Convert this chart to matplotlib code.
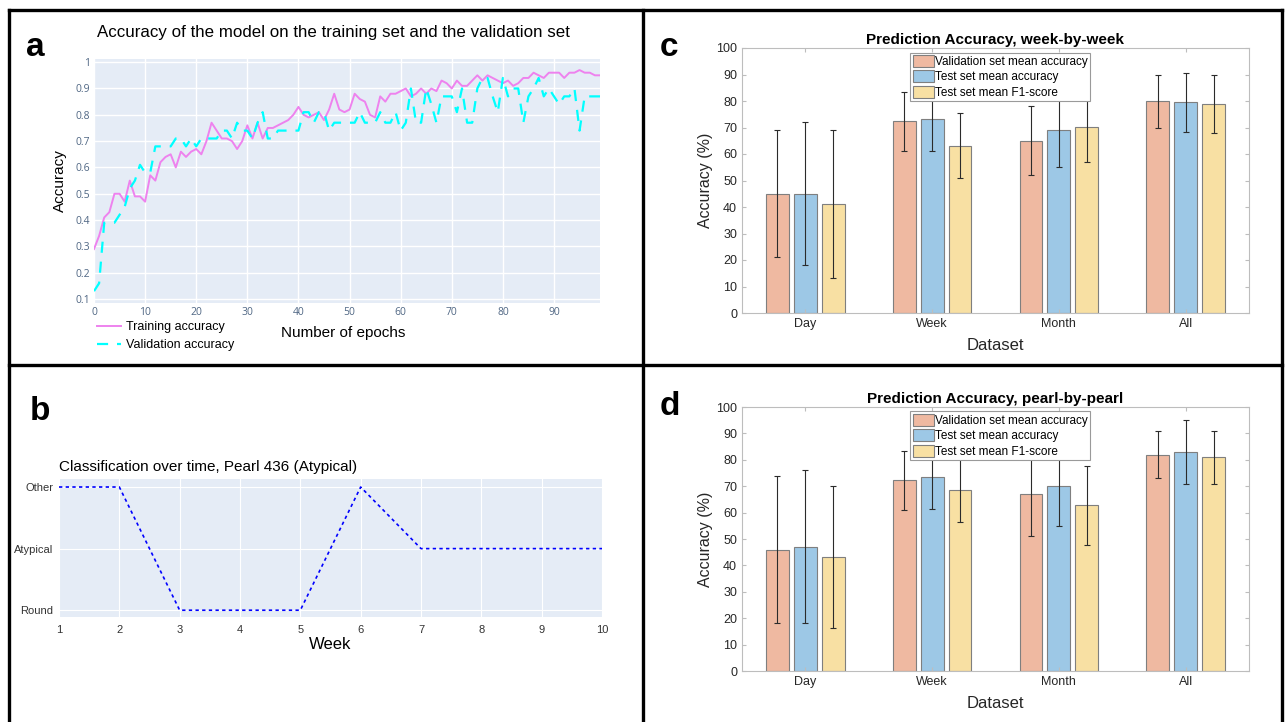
import matplotlib
matplotlib.use('Agg')
import matplotlib.pyplot as plt
from matplotlib.lines import Line2D
import numpy as np

plt.rcParams['font.family'] = ['Liberation Sans', 'DejaVu Sans']

# ---- panel a data (epochs 0..99)
trainAcc = [0.29, 0.34, 0.41, 0.43, 0.50, 0.50, 0.47, 0.55, 0.49, 0.49,
            0.47, 0.57, 0.55, 0.62, 0.64, 0.65, 0.60, 0.66, 0.64, 0.66,
            0.67, 0.65, 0.70, 0.77, 0.74, 0.71, 0.71, 0.70, 0.67, 0.70,
            0.76, 0.71, 0.77, 0.71, 0.75, 0.75, 0.76, 0.77, 0.78, 0.80,
            0.83, 0.80, 0.79, 0.80, 0.81, 0.78, 0.82, 0.88, 0.82, 0.81,
            0.82, 0.88, 0.86, 0.85, 0.80, 0.79, 0.87, 0.85, 0.88, 0.88,
            0.89, 0.90, 0.87, 0.88, 0.90, 0.88, 0.90, 0.89, 0.93, 0.92,
            0.90, 0.93, 0.91, 0.91, 0.93, 0.95, 0.93, 0.95, 0.94, 0.93,
            0.92, 0.93, 0.91, 0.92, 0.94, 0.94, 0.96, 0.95, 0.94, 0.96,
            0.96, 0.96, 0.94, 0.96, 0.96, 0.97, 0.96, 0.96, 0.95, 0.95]
valAcc = [0.13, 0.16, 0.39, 0.39, 0.39, 0.42, 0.45, 0.52, 0.55, 0.61,
          0.58, 0.58, 0.68, 0.68, 0.68, 0.68, 0.71, 0.71, 0.68, 0.71,
          0.68, 0.71, 0.71, 0.71, 0.71, 0.74, 0.74, 0.71, 0.77, 0.74,
          0.74, 0.71, 0.77, 0.81, 0.71, 0.71, 0.74, 0.74, 0.74, 0.74,
          0.74, 0.81, 0.81, 0.77, 0.81, 0.81, 0.74, 0.77, 0.77, 0.77,
          0.77, 0.77, 0.81, 0.77, 0.77, 0.77, 0.81, 0.77, 0.77, 0.81,
          0.74, 0.77, 0.90, 0.77, 0.77, 0.90, 0.84, 0.77, 0.87, 0.87,
          0.87, 0.81, 0.90, 0.77, 0.77, 0.90, 0.94, 0.94, 0.87, 0.81,
          0.94, 0.87, 0.90, 0.90, 0.77, 0.87, 0.90, 0.94, 0.87, 0.90,
          0.87, 0.84, 0.87, 0.87, 0.90, 0.74, 0.87, 0.87, 0.87, 0.87]

# ---- panel b data
weeks = [1, 2, 3, 4, 5, 6, 7, 8, 9, 10]
classNames = ['Round', 'Atypical', 'Other']
weekClass = [2, 2, 0, 0, 0, 2, 1, 1, 1, 1]

# ---- panel c / d data
datasets = ['Day', 'Week', 'Month', 'All']
seriesNames = ['Validation set mean accuracy', 'Test set mean accuracy', 'Test set mean F1-score']
weekVal = [45, 72.3, 65, 80]
weekTest = [45, 73.3, 69, 79.5]
weekF1 = [41.2, 63.1, 70.2, 79]
weekValErr = [24, 11.2, 13, 10]
weekTestErr = [27, 12.2, 14, 11.1]
weekF1Err = [28, 12.25, 13.25, 11]
pearlVal = [46, 72.3, 67, 82]
pearlTest = [47, 73.5, 70, 83]
pearlF1 = [43.2, 68.7, 62.8, 81]
pearlValErr = [28, 11.2, 16, 9]
pearlTestErr = [29, 12.3, 15, 12]
pearlF1Err = [27, 12.3, 15, 10]

barColors = ['#EFB9A1', '#9DC8E6', '#F8E0A3']

W, H = 1288, 722
fig = plt.figure(figsize=(W / 100, H / 100), dpi=100)


def pxAxes(x0, y0, x1, y1):
    return fig.add_axes([x0 / W, 1 - y1 / H, (x1 - x0) / W, (y1 - y0) / H])


def figText(x, y, s, **kw):
    fig.text(x / W, 1 - y / H, s, **kw)


def figLine(xs, ys):
    fig.add_artist(Line2D([x / W for x in xs], [1 - y / H for y in ys],
                          color='black', lw=2.4, solid_capstyle='projecting'))


# panel borders
figLine([9, 1282], [10, 10])
figLine([9, 9], [10, 730])
figLine([643, 643], [10, 730])
figLine([1282, 1282], [10, 730])
figLine([9, 1282], [365, 365])

# panel letters
for letter, x, y in [('a', 26, 48), ('b', 30, 412), ('c', 660, 48), ('d', 660, 407)]:
    figText(x, y, letter, fontsize=24, fontweight='bold', va='center')

# ---------------- panel a
plotlyBg = '#E5ECF6'
tickCol = '#506784'
ax = pxAxes(94, 59, 600, 303)
ax.set_facecolor(plotlyBg)
epochs = np.arange(len(trainAcc))
ax.plot(epochs, trainAcc, color='violet', lw=1.4, label='Training accuracy')
ax.plot(epochs, valAcc, color='cyan', lw=1.6, dashes=(5, 4), label='Validation accuracy')
ax.set_xlim(0, 99)
ax.set_ylim(0.085, 1.012)
ax.set_xticks(range(0, 100, 10))
ax.set_yticks(np.arange(0.1, 1.01, 0.1))
ax.set_yticklabels(['0.1', '0.2', '0.3', '0.4', '0.5', '0.6', '0.7', '0.8', '0.9', '1'])
ax.grid(color='white', lw=1)
ax.set_axisbelow(True)
for s in ax.spines.values():
    s.set_visible(False)
ax.tick_params(length=0, labelsize=7.5, labelcolor=tickCol, pad=3)
for t in ax.get_xticklabels() + ax.get_yticklabels():
    t.set_family('Open Sans')
ax.set_ylabel('Accuracy', fontsize=11, labelpad=6)
figText(343, 333, 'Number of epochs', fontsize=11, ha='center', va='center')
figText(97, 33, 'Accuracy of the model on the training set and the validation set',
        fontsize=12.2, va='center')
ax.legend(loc='upper left', bbox_to_anchor=(86 / W, 1 - 310 / H), bbox_transform=fig.transFigure,
          frameon=False, fontsize=9, handlelength=1.9, labelspacing=0.45, handletextpad=0.4)

# ---------------- panel b
ax = pxAxes(59, 479, 602, 617)
ax.set_facecolor(plotlyBg)
ax.plot(weeks, weekClass, color='blue', lw=1.2, dashes=(2, 2))
ax.set_xlim(1, 10)
ax.set_ylim(-0.11, 2.13)
ax.set_xticks(weeks)
ax.set_yticks([0, 1, 2])
ax.set_yticklabels(classNames)
ax.grid(color='white', lw=0.8)
ax.set_axisbelow(True)
for s in ax.spines.values():
    s.set_visible(False)
ax.tick_params(length=0, labelsize=8, labelcolor='#333333', pad=4)
ax.tick_params(axis='x', pad=6)
ax.set_xlabel('Week', fontsize=12, labelpad=1)
figText(59, 467, 'Classification over time, Pearl 436 (Atypical)', fontsize=11, va='center')


# ---------------- panels c and d
def barPanel(box, title, vals, errs):
    ax = pxAxes(*box)
    xpos = np.arange(1, len(datasets) + 1)
    offsets = [-0.22, 0, 0.22]
    for i in range(3):
        ax.bar(xpos + offsets[i], vals[i], width=0.18, color=barColors[i],
               edgecolor='#7F7F7F', linewidth=0.8, label=seriesNames[i])
        ax.errorbar(xpos + offsets[i], vals[i], yerr=errs[i], fmt='none',
                    ecolor='#2B2B2B', elinewidth=0.8, capsize=2, capthick=0.8)
    ax.set_xlim(0.5, 4.5)
    ax.set_ylim(0, 100)
    ax.set_yticks(range(0, 101, 10))
    ax.set_xticks(xpos)
    ax.set_xticklabels(datasets)
    for s in ax.spines.values():
        s.set_color('#BDBDBD')
        s.set_linewidth(0.8)
    ax.tick_params(direction='in', top=True, right=True, length=3, color='#BDBDBD',
                   labelsize=9, labelcolor='#262626')
    ax.set_ylabel('Accuracy (%)', fontsize=11.5, color='#262626', labelpad=2)
    ax.set_xlabel('Dataset', fontsize=12, color='#262626', labelpad=6)
    ax.set_title(title, fontsize=11, fontweight='bold', pad=3)
    leg = ax.legend(loc='upper left', bbox_to_anchor=(0.332, 0.983), fontsize=8.5,
                    fancybox=False, framealpha=1, edgecolor='#9A9A9A', borderpad=0.2,
                    labelspacing=0.2, handlelength=1.8, handleheight=1.2, handletextpad=0.1,
                    borderaxespad=0)
    leg.get_frame().set_linewidth(0.8)
    return ax


barPanel((742, 48, 1249, 313), 'Prediction Accuracy, week-by-week',
         [weekVal, weekTest, weekF1], [weekValErr, weekTestErr, weekF1Err])
barPanel((742, 407, 1249, 671), 'Prediction Accuracy, pearl-by-pearl',
         [pearlVal, pearlTest, pearlF1], [pearlValErr, pearlTestErr, pearlF1Err])

fig.savefig('out.png', dpi=100)
